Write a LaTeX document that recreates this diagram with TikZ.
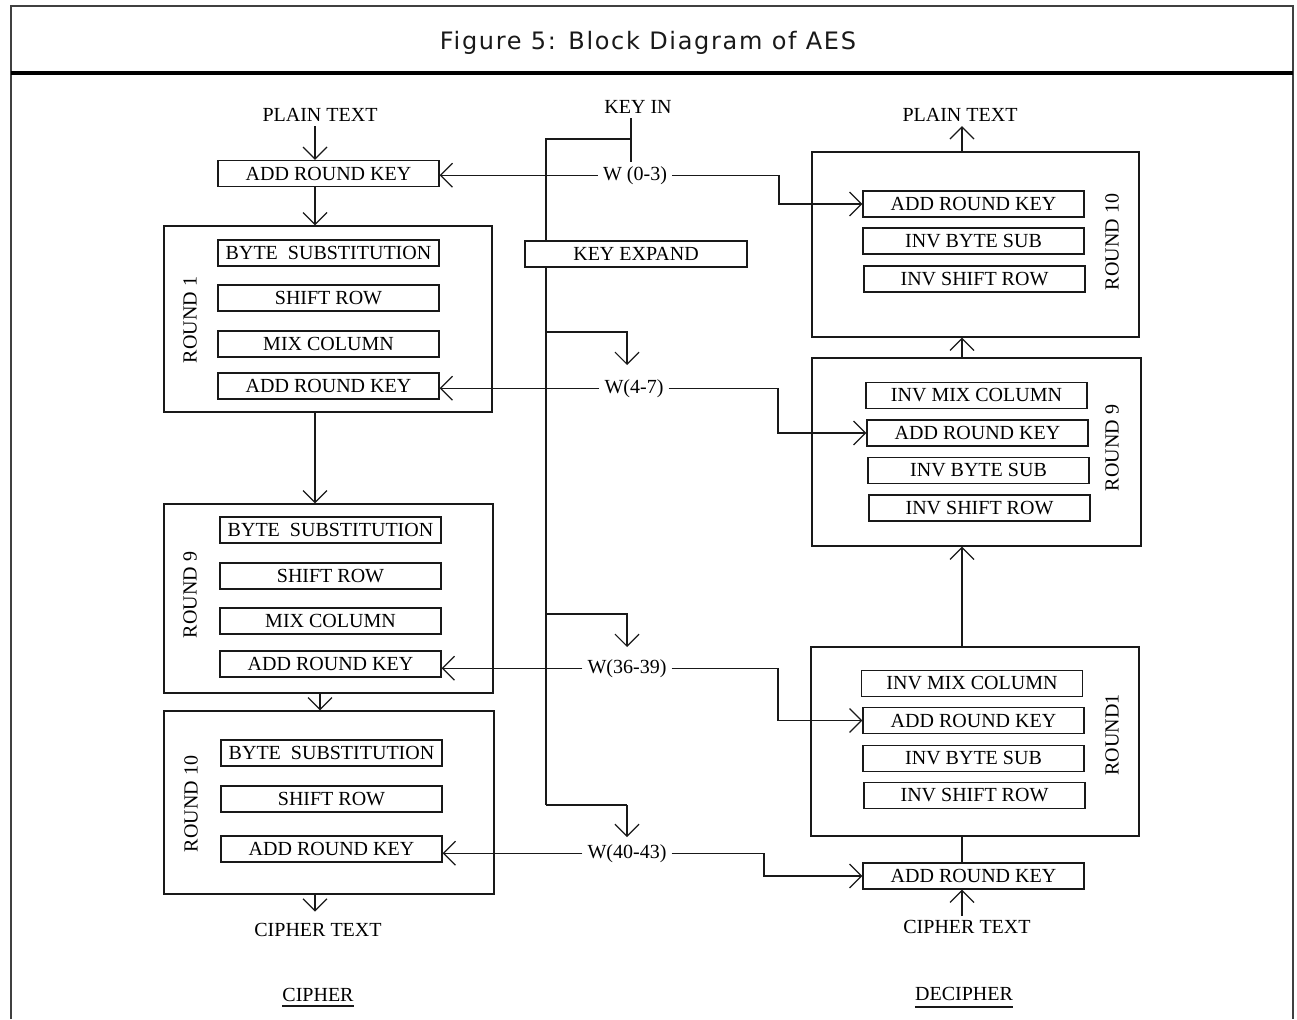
\documentclass[tikz,border=0pt]{standalone}
\usepackage{fontspec}
\setmainfont{Liberation Serif}
\newfontfamily\titlefont{DejaVu Sans}[LetterSpace=7]
\usetikzlibrary{arrows.meta}
\newcommand{\tf}{\fontsize{20}{24}\selectfont}
\tikzset{
  ln/.style={line width=1.3pt, draw=black!90},
  arr/.style={ln, -{Straight Barb[length=12pt,width=24pt,line width=1.2pt]}},
  ib/.style={draw=black!90, line width=1.3pt, minimum width=221pt, minimum height=26pt, inner sep=0pt, font=\tf},
  rb/.style={draw=black!90, line width=1.3pt, inner sep=0pt},
  tx/.style={inner xsep=5pt, inner ysep=4pt, font=\tf, anchor=base},
  rl/.style={inner sep=0pt, font=\tf, rotate=90},
}
\begin{document}
\begin{tikzpicture}[x=1pt,y=-1pt]
\useasboundingbox (0,0) rectangle (1297,1019);
% frame and title
\draw[line width=2pt, black!75] (11,1019) -- (11,6) -- (1293,6) -- (1293,1019);
\draw[line width=3.5pt] (11,73) -- (1293,73);
\node[font=\titlefont\fontsize{24}{28}\selectfont, anchor=base, inner sep=0pt, text=black!90] (title) at (648,50) {Figure 5: Block Diagram of AES};

% column coordinates
\coordinate (lc) at (315,0);
\coordinate (lc2) at (320,0);
\coordinate (kx) at (631,0);
\coordinate (sp) at (546,139);
\coordinate (b1) at (627,332);
\coordinate (b2) at (627,614);
\coordinate (b3) at (627,805);
\coordinate (cx1) at (779,0);
\coordinate (cx2) at (778,0);
\coordinate (cx3) at (778,0);
\coordinate (cx4) at (764,0);
\coordinate (rx) at (962,0);

% ---------------- CIPHER (left) ----------------
\node[tx] (pt1) at (320,122) {PLAIN TEXT};
\node[ib] (lark0) at (328.5,173.5) {ADD ROUND KEY};

\node[rb, minimum width=328pt, minimum height=186pt] (r1) at (328,319) {};
\node[ib] (r1bs) at (328.5,253) {BYTE\ \ SUBSTITUTION};
\node[ib] (r1sr) at (328.5,298) {SHIFT ROW};
\node[ib] (r1mc) at (328.5,344) {MIX COLUMN};
\node[ib] (r1ark) at (328.5,386) {ADD ROUND KEY};
\node[rl] (r1l) at (190,320) {ROUND 1};

\node[rb, minimum width=329pt, minimum height=189pt] (r9) at (328.5,598.5) {};
\node[ib] (r9bs) at (330.5,530) {BYTE\ \ SUBSTITUTION};
\node[ib] (r9sr) at (330.5,576) {SHIFT ROW};
\node[ib] (r9mc) at (330.5,621) {MIX COLUMN};
\node[ib] (r9ark) at (330.5,664) {ADD ROUND KEY};
\node[rl] (r9l) at (190,595) {ROUND 9};

\node[rb, minimum width=330pt, minimum height=183pt] (r10) at (329,802.5) {};
\node[ib] (r10bs) at (331.5,753) {BYTE\ \ SUBSTITUTION};
\node[ib] (r10sr) at (331.5,799) {SHIFT ROW};
\node[ib] (r10ark) at (331.5,849) {ADD ROUND KEY};
\node[rl] (r10l) at (191,804) {ROUND 10};

\node[tx] (ct1) at (318,936) {CIPHER TEXT};
\node[tx] (cip) at (318,1001) {CIPHER};
\draw[ln] ([yshift=-5pt]cip.base west) ++(5,0) -- ([yshift=-5pt,xshift=-5pt]cip.base east);

\draw[arr] (pt1.south -| lc) -- (lark0.north -| lc);
\draw[arr] (lark0.south -| lc) -- (r1.north -| lc);
\draw[arr] (r1.south -| lc) -- (r9.north -| lc);
\draw[arr] (r9.south -| lc2) -- (r10.north -| lc2);
\draw[arr] (r10.south -| lc) -- ++(0,17);

% ---------------- KEY ----------------
\node[tx] (keyin) at (638,114) {KEY IN};
\node[tx] (w03) at (635,180) {W (0-3)};
\node[ib, minimum width=222pt] (kexp) at (636,254) {KEY EXPAND};
\node[tx] (w47) at (634,393) {W(4-7)};
\node[tx] (w3639) at (627,673) {W(36-39)};
\node[tx] (w4043) at (627,858) {W(40-43)};

\draw[ln] (keyin.south -| kx) -- (w03.north -| kx);
\draw[ln] (kx |- sp) -- (sp) -- (sp |- kexp.north);
\draw[ln] (sp |- kexp.south) -- (sp |- b3);
\draw[arr] (sp |- b1) -- (b1) -- ++(0,33);
\draw[arr] (sp |- b2) -- (b2) -- ++(0,33);
\draw[arr] (b3) -- ++(0,32);
\draw[ln] (sp |- b3) -- (b3);

\draw[arr] (w03.west) -- (w03.west -| lark0.east);
\draw[arr] (w47.west) -- (w47.west -| r1ark.east);
\draw[arr] (w3639.west) -- (w3639.west -| r9ark.east);
\draw[arr] (w4043.west) -- (w4043.west -| r10ark.east);

% ---------------- DECIPHER (right) ----------------
\node[tx] (pt2) at (960,122) {PLAIN TEXT};

\node[rb, minimum width=327pt, minimum height=185pt] (dr10) at (975.5,244.5) {};
\node[ib] (dr10ark) at (973.5,204) {ADD ROUND KEY};
\node[ib] (dr10ibs) at (973.5,241) {INV BYTE SUB};
\node[ib] (dr10isr) at (974.5,279) {INV SHIFT ROW};
\node[rl] (dr10l) at (1112,242) {ROUND 10};

\node[rb, minimum width=329pt, minimum height=188pt] (dr9) at (976.5,452) {};
\node[ib] (dr9imc) at (976.5,395.5) {INV MIX COLUMN};
\node[ib] (dr9ark) at (977.5,433) {ADD ROUND KEY};
\node[ib] (dr9ibs) at (978.5,470.5) {INV BYTE SUB};
\node[ib] (dr9isr) at (979.5,508) {INV SHIFT ROW};
\node[rl] (dr9l) at (1112,448) {ROUND 9};

\node[rb, minimum width=328pt, minimum height=189pt] (dr1) at (975,741.5) {};
\node[ib] (dr1imc) at (972,683.5) {INV MIX COLUMN};
\node[ib] (dr1ark) at (973.5,720.5) {ADD ROUND KEY};
\node[ib] (dr1ibs) at (973.5,758.5) {INV BYTE SUB};
\node[ib] (dr1isr) at (974.5,795.5) {INV SHIFT ROW};
\node[rl] (dr1l) at (1112,735) {ROUND1};

\node[ib] (dark0) at (973.5,876) {ADD ROUND KEY};
\node[tx] (ct2) at (967,933) {CIPHER TEXT};
\node[tx] (dec) at (964,1000) {DECIPHER};
\draw[ln] ([yshift=-7pt]dec.base west) ++(5,0) -- ([yshift=-7pt,xshift=-5pt]dec.base east);

\draw[arr] (dr10.north -| rx) -- (pt2.south -| rx);
\draw[arr] (dr9.north -| rx) -- (dr10.south -| rx);
\draw[arr] (dr1.north -| rx) -- (dr9.south -| rx);
\draw[ln] (dr1.south -| rx) -- (dark0.north -| rx);
\draw[arr] (ct2.north -| rx) -- (dark0.south -| rx);

\draw[arr] (w03.east) -| (cx1 |- dr10ark.west) -- (dr10ark.west);
\draw[arr] (w47.east) -| (cx2 |- dr9ark.west) -- (dr9ark.west);
\draw[arr] (w3639.east) -| (cx3 |- dr1ark.west) -- (dr1ark.west);
\draw[arr] (w4043.east) -| (cx4 |- dark0.west) -- (dark0.west);
\end{tikzpicture}
\end{document}
